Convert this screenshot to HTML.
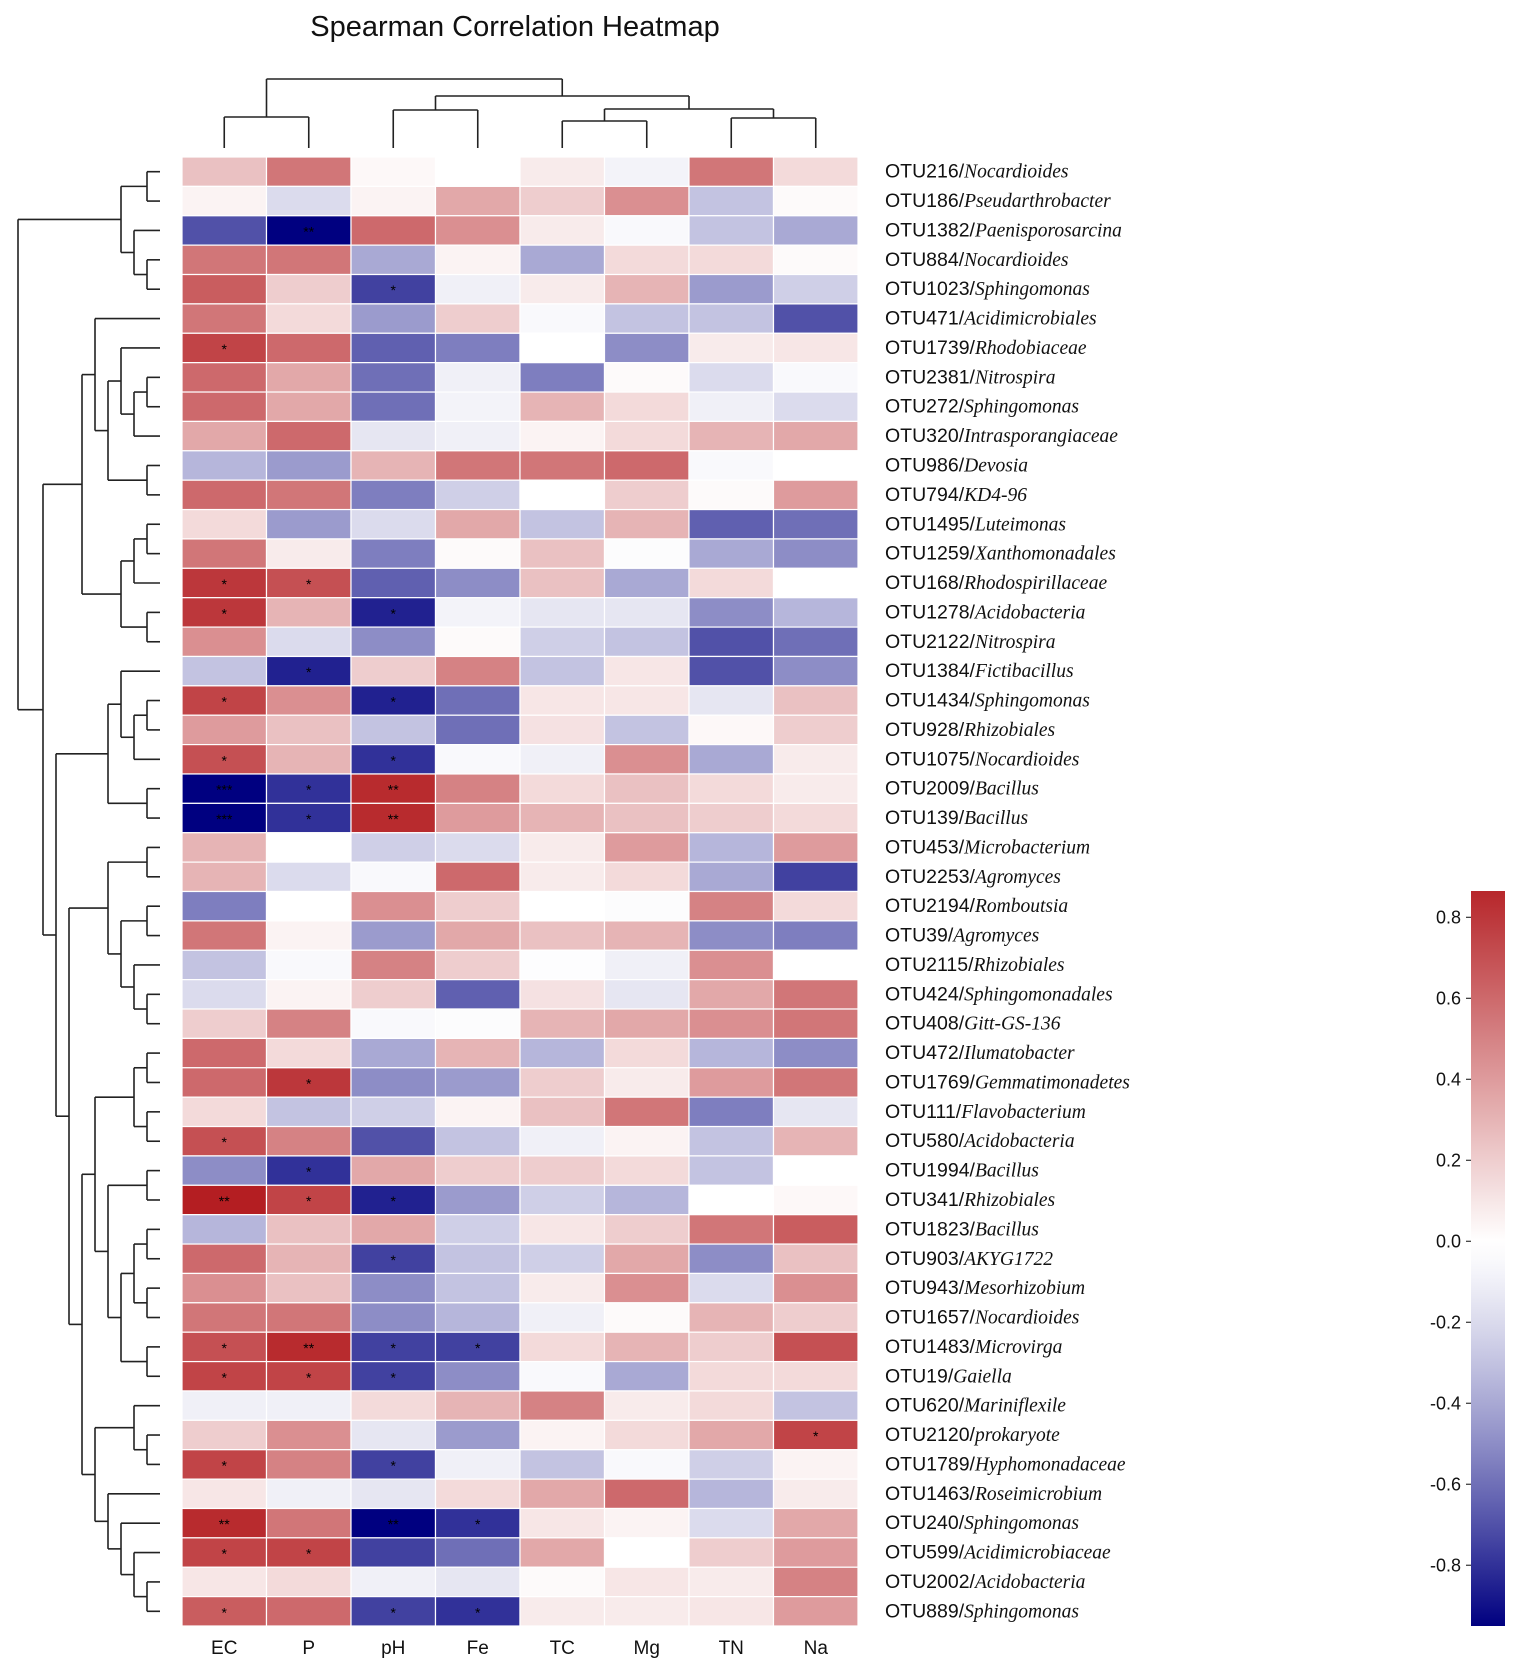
<!DOCTYPE html>
<html><head><meta charset="utf-8"><style>
body{margin:0;background:#fff;}
svg{display:block;}
</style></head><body>
<svg id="chart" width="1535" height="1669" viewBox="0 0 1535 1669" xmlns="http://www.w3.org/2000/svg">
<rect width="1535" height="1669" fill="#fff"/>
<text x="515" y="36" font-family="Liberation Sans, sans-serif" font-size="29" text-anchor="middle" fill="#111">Spearman Correlation Heatmap</text>
</svg>
<script>
const columns = ["EC","P","pH","Fe","TC","Mg","TN","Na"];
const rowIds = ["OTU216","OTU186","OTU1382","OTU884","OTU1023","OTU471","OTU1739","OTU2381","OTU272","OTU320","OTU986","OTU794","OTU1495","OTU1259","OTU168","OTU1278","OTU2122","OTU1384","OTU1434","OTU928","OTU1075","OTU2009","OTU139","OTU453","OTU2253","OTU2194","OTU39","OTU2115","OTU424","OTU408","OTU472","OTU1769","OTU111","OTU580","OTU1994","OTU341","OTU1823","OTU903","OTU943","OTU1657","OTU1483","OTU19","OTU620","OTU2120","OTU1789","OTU1463","OTU240","OTU599","OTU2002","OTU889"];
const rowTaxa = ["Nocardioides","Pseudarthrobacter","Paenisporosarcina","Nocardioides","Sphingomonas","Acidimicrobiales","Rhodobiaceae","Nitrospira","Sphingomonas","Intrasporangiaceae","Devosia","KD4-96","Luteimonas","Xanthomonadales","Rhodospirillaceae","Acidobacteria","Nitrospira","Fictibacillus","Sphingomonas","Rhizobiales","Nocardioides","Bacillus","Bacillus","Microbacterium","Agromyces","Romboutsia","Agromyces","Rhizobiales","Sphingomonadales","Gitt-GS-136","Ilumatobacter","Gemmatimonadetes","Flavobacterium","Acidobacteria","Bacillus","Rhizobiales","Bacillus","AKYG1722","Mesorhizobium","Nocardioides","Microvirga","Gaiella","Mariniflexile","prokaryote","Hyphomonadaceae","Roseimicrobium","Sphingomonas","Acidimicrobiaceae","Acidobacteria","Sphingomonas"];
const values = [
[0.25,0.55,0.03,0.0,0.08,-0.08,0.55,0.15],
[0.05,-0.2,0.05,0.35,0.2,0.45,-0.3,0.02],
[-0.7,-0.95,0.6,0.45,0.08,-0.05,-0.3,-0.4],
[0.55,0.55,-0.4,0.05,-0.4,0.15,0.15,0.02],
[0.65,0.2,-0.75,-0.1,0.08,0.3,-0.45,-0.25],
[0.55,0.15,-0.45,0.2,-0.05,-0.3,-0.3,-0.7],
[0.75,0.6,-0.65,-0.55,0.0,-0.5,0.08,0.1],
[0.6,0.35,-0.6,-0.1,-0.55,0.02,-0.2,-0.05],
[0.6,0.35,-0.6,-0.08,0.3,0.15,-0.1,-0.2],
[0.35,0.6,-0.15,-0.1,0.05,0.15,0.3,0.35],
[-0.35,-0.45,0.3,0.55,0.55,0.6,-0.05,0.0],
[0.6,0.55,-0.55,-0.25,0.0,0.2,0.02,0.4],
[0.15,-0.45,-0.2,0.35,-0.3,0.3,-0.65,-0.6],
[0.55,0.08,-0.55,0.02,0.25,-0.03,-0.4,-0.5],
[0.8,0.7,-0.65,-0.5,0.25,-0.4,0.15,0.0],
[0.8,0.3,-0.85,-0.08,-0.15,-0.15,-0.5,-0.35],
[0.45,-0.2,-0.5,0.02,-0.25,-0.3,-0.7,-0.6],
[-0.3,-0.85,0.2,0.5,-0.3,0.1,-0.7,-0.5],
[0.75,0.45,-0.85,-0.6,0.1,0.1,-0.15,0.25],
[0.4,0.25,-0.3,-0.6,0.12,-0.3,0.03,0.2],
[0.7,0.3,-0.8,-0.05,-0.1,0.45,-0.4,0.08],
[-0.95,-0.8,0.85,0.5,0.15,0.25,0.15,0.08],
[-0.95,-0.8,0.85,0.4,0.3,0.25,0.2,0.15],
[0.3,0.0,-0.25,-0.2,0.08,0.4,-0.35,0.4],
[0.3,-0.2,-0.05,0.6,0.08,0.15,-0.4,-0.75],
[-0.55,0.0,0.45,0.2,0.0,-0.03,0.5,0.15],
[0.55,0.05,-0.45,0.35,0.25,0.3,-0.5,-0.55],
[-0.3,-0.05,0.5,0.2,-0.02,-0.1,0.45,0.0],
[-0.2,0.05,0.2,-0.65,0.12,-0.15,0.35,0.55],
[0.2,0.5,-0.05,-0.03,0.3,0.35,0.45,0.55],
[0.6,0.15,-0.4,0.3,-0.35,0.15,-0.35,-0.5],
[0.6,0.8,-0.5,-0.45,0.2,0.08,0.4,0.55],
[0.15,-0.3,-0.25,0.05,0.25,0.55,-0.55,-0.15],
[0.7,0.5,-0.7,-0.3,-0.1,0.05,-0.3,0.3],
[-0.5,-0.8,0.35,0.2,0.2,0.15,-0.3,0.0],
[0.9,0.75,-0.85,-0.45,-0.25,-0.35,0.0,0.03],
[-0.35,0.25,0.35,-0.25,0.1,0.2,0.55,0.65],
[0.6,0.3,-0.75,-0.3,-0.25,0.35,-0.5,0.25],
[0.45,0.25,-0.5,-0.3,0.08,0.45,-0.2,0.45],
[0.55,0.55,-0.5,-0.35,-0.1,0.02,0.3,0.2],
[0.7,0.85,-0.75,-0.75,0.15,0.3,0.2,0.7],
[0.75,0.75,-0.75,-0.5,-0.05,-0.4,0.15,0.15],
[-0.1,-0.1,0.15,0.3,0.5,0.08,0.15,-0.3],
[0.2,0.45,-0.15,-0.45,0.05,0.15,0.35,0.75],
[0.75,0.5,-0.75,-0.1,-0.3,-0.05,-0.25,0.05],
[0.1,-0.1,-0.15,0.15,0.35,0.6,-0.35,0.08],
[0.85,0.55,-0.95,-0.8,0.1,0.05,-0.2,0.35],
[0.75,0.75,-0.75,-0.6,0.35,0.0,0.2,0.4],
[0.1,0.15,-0.1,-0.15,0.02,0.1,0.08,0.5],
[0.65,0.6,-0.75,-0.8,0.08,0.08,0.1,0.4]
];
// significance marks: [row, col, label]
const stars = [[2,1,"**"],[4,2,"*"],[6,0,"*"],[14,0,"*"],[14,1,"*"],[15,0,"*"],[15,2,"*"],[17,1,"*"],[18,0,"*"],[18,2,"*"],[20,0,"*"],[20,2,"*"],[21,0,"***"],[21,1,"*"],[21,2,"**"],[22,0,"***"],[22,1,"*"],[22,2,"**"],[31,1,"*"],[33,0,"*"],[34,1,"*"],[35,0,"**"],[35,1,"*"],[35,2,"*"],[37,2,"*"],[40,0,"*"],[40,1,"**"],[40,2,"*"],[40,3,"*"],[41,0,"*"],[41,1,"*"],[41,2,"*"],[43,7,"*"],[44,0,"*"],[44,2,"*"],[46,0,"**"],[46,2,"**"],[46,3,"*"],[47,0,"*"],[47,1,"*"],[49,0,"*"],[49,2,"*"],[49,3,"*"]];
const cbTicks = [0.8,0.6,0.4,0.2,0.0,-0.2,-0.4,-0.6,-0.8];

const NS="http://www.w3.org/2000/svg";
const svg=document.getElementById('chart');
function mk(tag,attrs,parent){const e=document.createElementNS(NS,tag);for(const k in attrs)e.setAttribute(k,attrs[k]);(parent||svg).appendChild(e);return e;}
const X0=182,X1=858,Y0=157,Y1=1626;
const cw=(X1-X0)/columns.length, rh=(Y1-Y0)/rowIds.length;
const xCell=j=>X0+j*cw, yCell=i=>Y0+i*rh;
function color(v){
  let r,g,b;
  if(v>=0){const t=Math.min(v/0.9,1);r=255+(180-255)*t;g=255+(30-255)*t;b=255+(34-255)*t;}
  else{const t=Math.pow(Math.min(-v/0.95,1),1.25);r=255+(0-255)*t;g=255+(0-255)*t;b=255+(128-255)*t;}
  return `rgb(${Math.round(r)},${Math.round(g)},${Math.round(b)})`;
}
const cells=mk('g',{});


values.forEach((row,i)=>row.forEach((v,j)=>{
  const r=mk('rect',{x:xCell(j),y:yCell(i),width:cw,height:rh,fill:color(v),stroke:'#fff','stroke-width':1.2},cells);
  
  
}));
stars.forEach(([i,j,s])=>{
  const t=mk('text',{x:xCell(j)+cw/2,y:yCell(i)+rh/2+6,'text-anchor':'middle','font-family':'Liberation Sans, sans-serif','font-size':14,fill:'#000'});
  t.textContent=s;
  
  
});
columns.forEach((c,j)=>{
  const t=mk('text',{x:xCell(j)+cw/2,y:1654,'text-anchor':'middle','font-family':'Liberation Sans, sans-serif','font-size':19,fill:'#111'});
  t.textContent=c;
  
  
});
rowIds.forEach((id,i)=>{
  const t=mk('text',{x:885,y:yCell(i)+rh/2+6,'font-size':19.5,fill:'#111'});
  
  
  const a=mk('tspan',{'font-family':'Liberation Sans, sans-serif'},t);a.textContent=id+'/';
  const b=mk('tspan',{'font-family':'Liberation Serif, serif','font-style':'italic'},t);b.textContent=rowTaxa[i];
});
// column dendrogram
const colDen=mk('g',{stroke:'#222','stroke-width':1.6,fill:'none'});


const cx=j=>xCell(j)+cw/2;
function cl(x1,y1,x2,y2){mk('line',{x1,y1,x2,y2},colDen);}
function cjoin(xa,ya,xb,yb,y){cl(xa,ya,xa,y);cl(xb,yb,xb,y);cl(xa,y,xb,y);}
const LB=148;
cjoin(cx(0),LB,cx(1),LB,117);
cjoin(cx(2),LB,cx(3),LB,110);
cjoin(cx(4),LB,cx(5),LB,121);
cjoin(cx(6),LB,cx(7),LB,118);
const m45=(cx(4)+cx(5))/2,m67=(cx(6)+cx(7))/2;
cjoin(m45,121,m67,118,109);
const m47=(m45+m67)/2,m23=(cx(2)+cx(3))/2;
cjoin(m23,110,m47,109,96);
const m27=(m23+m47)/2,m01=(cx(0)+cx(1))/2;
cjoin(m01,117,m27,96,79);
// row dendrogram
const rowDen=mk('g',{stroke:'#222','stroke-width':1.6,fill:'none'});


const A=[[0,1],[2,[3,4]]];
const B1=[[5,[[6,[[7,8],9]],[10,11]]],[[[12,13],14],[15,16]]];
const B2a=[[17,[[18,19],20]],[21,22]];
const C1=[[23,24],[[25,26],[27,[28,29]]]];
const D1=[[[30,31],[32,33]],[[34,35],[[[36,37],[38,39]],[40,41]]]];
const D2=[[42,[43,44]],[45,[46,[47,[48,49]]]]];
const tree=[A,[B1,[B2a,[C1,[D1,D2]]]]];
const LX=160;
function draw(n,isRoot){
  if(typeof n==='number') return {x:LX,y:yCell(n)+rh/2,h:0};
  const a=draw(n[0]),b=draw(n[1]);
  const h=Math.max(a.h,b.h)+1;
  const x=isRoot?18:Math.max(LX-h*13,30);
  mk('line',{x1:a.x,y1:a.y,x2:x,y2:a.y},rowDen);
  mk('line',{x1:b.x,y1:b.y,x2:x,y2:b.y},rowDen);
  mk('line',{x1:x,y1:a.y,x2:x,y2:b.y},rowDen);
  return {x,y:(a.y+b.y)/2,h};
}
draw(tree,true);
// colorbar
const CB={x:1471,w:34,top:891,bot:1626,vmax:0.865,vmin:-0.95};
const defs=mk('defs',{});
const grad=mk('linearGradient',{id:'cbg',x1:0,y1:0,x2:0,y2:1},defs);
for(let k=0;k<=40;k++){const v=CB.vmax+(CB.vmin-CB.vmax)*k/40;mk('stop',{offset:k/40,'stop-color':color(v)},grad);}
const cbg=mk('g',{});


mk('rect',{x:CB.x,y:CB.top,width:CB.w,height:CB.bot-CB.top,fill:'url(#cbg)'},cbg);
const cby=v=>CB.top+(CB.vmax-v)/(CB.vmax-CB.vmin)*(CB.bot-CB.top);
cbTicks.forEach(v=>{
  mk('line',{x1:CB.x-5,y1:cby(v),x2:CB.x,y2:cby(v),stroke:'#333','stroke-width':1.2},cbg);
  const t=mk('text',{x:CB.x-10,y:cby(v)+6,'text-anchor':'end','font-family':'Liberation Sans, sans-serif','font-size':18,fill:'#111'},cbg);
  t.textContent=v.toFixed(1);
  
  
});
</script>
</body></html>
